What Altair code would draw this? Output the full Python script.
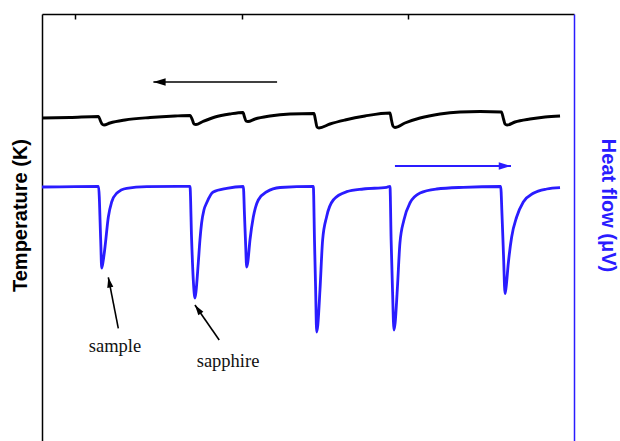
import altair as alt
import pandas as pd

# Temperature trace (K) versus time (s)
temp_time = [-200, -32, 140, 152, 161, 173, 209, 299, 450, 600, 690, 705, 714, 726, 768, 841, 931,
             1009, 1018, 1027, 1039, 1081, 1171, 1292, 1436, 1445, 1454, 1466, 1532, 1623, 1743,
             1893, 1902, 1911, 1923, 1983, 2074, 2194, 2314, 2435, 2563, 2576, 2585, 2597, 2645,
             2735, 2826, 2916]
temp_K = [298.96, 298.965, 298.975, 298.93, 298.90, 298.89, 298.91, 298.94, 298.965, 298.98,
          298.985, 298.94, 298.90, 298.895, 298.925, 298.97, 299.00,
          299.015, 298.97, 298.93, 298.925, 298.95, 298.98, 299.00, 299.005, 298.94, 298.87,
          298.86, 298.90, 298.94, 298.98,
          299.01, 298.94, 298.88, 298.865, 298.91, 298.96, 299.00, 299.02, 299.025, 299.02,
          298.95, 298.90, 298.89, 298.92, 298.95, 298.97, 298.98]

# Heat-flow trace (µV) versus time (s)
heat_time = [-200, 140, 153, 159, 167, 179, 199, 219, 249, 309, 430,
             690, 700, 710, 720, 726, 740, 750, 760, 774, 790, 830, 911,
             1011, 1018, 1025, 1031, 1038, 1051, 1071, 1101, 1152, 1232,
             1432, 1439, 1446, 1452, 1459, 1472, 1488, 1512, 1552, 1633, 1733, 1873,
             1893, 1900, 1908, 1917, 1924, 1937, 1953, 1977, 2013, 2074, 2174, 2334,
             2559, 2567, 2576, 2585, 2591, 2605, 2625, 2655, 2695, 2755, 2836, 2916]
heat_uV = [0.0, 0.07, -5.3, -8.1, -7.5, -6.0, -3.0, -1.5, -0.63, -0.13, 0.03,
           0.07, -5.3, -9.3, -11.1, -10.5, -7.6, -5.3, -3.6, -2.3, -1.6, -0.5, -0.13,
           0.05, -2.8, -5.8, -8.0, -7.5, -5.3, -3.0, -1.3, -0.47, -0.05,
           0.07, -5.3, -10.3, -14.5, -13.8, -10.3, -5.3, -2.97, -1.3, -0.47, -0.2, -0.03,
           0.07, -5.3, -10.1, -14.3, -13.6, -10.3, -5.6, -3.3, -1.6, -0.6, -0.2, -0.03,
           0.05, -2.8, -6.8, -10.65, -10.1, -7.6, -5.0, -3.0, -1.5, -0.63, -0.2, -0.07]

# Direction arrows and pointer annotations
sweep_T = {"x": [1214], "y": [299.32], "x_tip": [470], "y_tip": [299.32], "ang": [270]}
sweep_H = {"x": [1923], "y": [2.1], "x_tip": [2621], "y_tip": [2.1], "ang": [90]}
pointer_H = {"x": [259, 866], "y": [-14.13, -15.3], "x_tip": [199, 720], "y_tip": [-9.03, -11.8],
             "ang": [349, 325]}
label_text = ["sample", "sapphire"]
label_x = [239, 919]
label_y = [-16.47, -17.97]

BLUE = "#2a1cff"
HEAD = "M0,0L-0.3,1L0.3,1Z"

x_scale = alt.Scale(domain=[-200, 3000], nice=False, zero=False)
t_scale = alt.Scale(domain=[295.73, 300.0], nice=False, zero=False)
h_scale = alt.Scale(domain=[-25.4, 17.3], nice=False, zero=False)

x_axis = alt.Axis(orient="bottom", offset=-427, values=[0, 1000, 2000], labels=False, title=None,
                  tickSize=5, tickWidth=1.5, tickColor="black", domainColor="black",
                  domainWidth=1.5, grid=False)
left_axis = alt.Axis(orient="left", title="Temperature (K)", labels=False, ticks=False, grid=False,
                     domainColor="black", domainWidth=1.5, titleFont="Liberation Sans",
                     titleFontWeight="bold", titleFontSize=20, titleColor="black",
                     titleAngle=270, titleX=-22, titleY=201, titleAlign="center",
                     titleBaseline="middle")
right_axis = alt.Axis(orient="right", title="Heat flow (μV)", labels=False, ticks=False, grid=False,
                      domainColor=BLUE, domainWidth=1.5, titleFont="Liberation Sans",
                      titleFontWeight="bold", titleFontSize=20, titleColor=BLUE,
                      titleAngle=90, titleX=33, titleY=191, titleAlign="center",
                      titleBaseline="middle")


def xq(field):
    return alt.X(f"{field}:Q", scale=x_scale, axis=x_axis)


def yt(field):
    return alt.Y(f"{field}:Q", scale=t_scale, axis=left_axis)


def yh(field):
    return alt.Y(f"{field}:Q", scale=h_scale, axis=right_axis)


temp_df = pd.DataFrame({"t": temp_time, "T": temp_K})
heat_df = pd.DataFrame({"t": heat_time, "H": heat_uV})

temp_line = alt.Chart(temp_df).mark_line(
    color="black", strokeWidth=2.9, strokeJoin="round", interpolate="monotone"
).encode(x=xq("t"), y=yt("T"))

sweepT_df = pd.DataFrame(sweep_T)
sweepT_shaft = alt.Chart(sweepT_df).mark_rule(color="black", strokeWidth=1.6).encode(
    x=xq("x"), x2="x_tip:Q", y=yt("y"), y2="y_tip:Q",
)
sweepT_head = alt.Chart(sweepT_df).mark_point(
    shape=HEAD, filled=True, size=600, opacity=1, color="black", strokeWidth=0
).encode(x=xq("x_tip"), y=yt("y_tip"), angle=alt.Angle("ang:Q", scale=None))
temp_layer = alt.layer(temp_line, sweepT_shaft, sweepT_head)

heat_line = alt.Chart(heat_df).mark_line(
    color=BLUE, strokeWidth=2.8, strokeJoin="round", interpolate="monotone"
).encode(x=xq("t"), y=yh("H"))

sweepH_df = pd.DataFrame(sweep_H)
sweepH_shaft = alt.Chart(sweepH_df).mark_rule(color=BLUE, strokeWidth=1.8).encode(
    x=xq("x"), x2="x_tip:Q", y=yh("y"), y2="y_tip:Q",
)
sweepH_head = alt.Chart(sweepH_df).mark_point(
    shape=HEAD, filled=True, size=600, opacity=1, color=BLUE, strokeWidth=0
).encode(x=xq("x_tip"), y=yh("y_tip"), angle=alt.Angle("ang:Q", scale=None))

pointer_df = pd.DataFrame(pointer_H)
pointer_shaft = alt.Chart(pointer_df).mark_rule(color="black", strokeWidth=1.6).encode(
    x=xq("x"), x2="x_tip:Q", y=yh("y"), y2="y_tip:Q",
)
pointer_head = alt.Chart(pointer_df).mark_point(
    shape=HEAD, filled=True, size=420, opacity=1, color="black", strokeWidth=0
).encode(x=xq("x_tip"), y=yh("y_tip"), angle=alt.Angle("ang:Q", scale=None))

label_df = pd.DataFrame({"label": label_text, "x": label_x, "y": label_y})
labels = alt.Chart(label_df).mark_text(
    font="Liberation Serif", fontSize=18.5, color="#111111", align="center", baseline="alphabetic"
).encode(x=xq("x"), y=yh("y"), text="label:N")

heat_layer = alt.layer(heat_line, sweepH_shaft, sweepH_head, pointer_shaft, pointer_head, labels)

chart = alt.layer(temp_layer, heat_layer).resolve_scale(y="independent").properties(
    width=532, height=427,
    padding={"left": 42, "top": 14, "right": 46, "bottom": 0},
    autosize=alt.AutoSizeParams(type="none"),
    background="white",
).configure_view(stroke=None)

chart.save("out.html", embed_options={"renderer": "svg", "actions": False})
